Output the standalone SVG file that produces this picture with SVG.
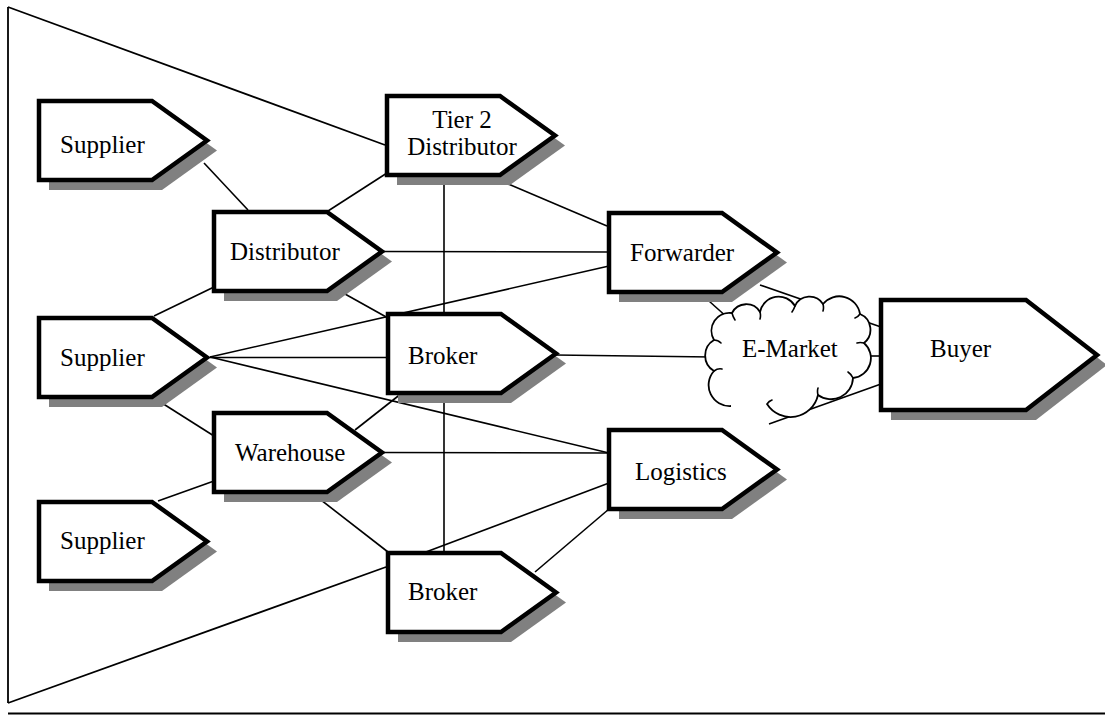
<svg xmlns="http://www.w3.org/2000/svg" xmlns:xlink="http://www.w3.org/1999/xlink" width="1105" height="715" viewBox="0 0 1105 715">
  <style>
    .frame { fill: none; stroke: #000; stroke-width: 1.8; }
    .link { fill: none; stroke: #000; stroke-width: 1.6; }
    .shadow { fill: #808080; stroke: none; }
    .box { fill: #fff; stroke: #000; stroke-width: 4.5; stroke-linejoin: miter; stroke-miterlimit: 10; }
    .cloud { fill: #fff; stroke: #000; stroke-width: 1.8; stroke-linejoin: round; }
    .tick { fill: none; stroke: #000; stroke-width: 1.6; stroke-linecap: round; }
    .label { font-family: "Liberation Serif", "Times New Roman", serif; font-size: 25px; fill: #000; }
    .mid { text-anchor: middle; }
  </style>
  <defs>
    <!-- pentagon "tag" node, outer size 174 x 83 -->
    <path id="tag" d="M2,2 H115 L170,41.5 L115,81 H2 Z"/>
    <!-- larger tag for the buyer -->
    <path id="tagBig" d="M2,2 H147 L218,57 L147,112 H2 Z"/>
  </defs>

  <rect width="1105" height="715" fill="#fff"/>

  <!-- enclosing wedge and base rule -->
  <g id="frame">
    <line class="frame" x1="8" y1="7" x2="385" y2="145"/>
    <line class="frame" x1="8" y1="7" x2="8" y2="703"/>
    <line class="frame" x1="8" y1="703" x2="386" y2="567"/>
    <line class="frame" x1="8" y1="713.5" x2="1105" y2="713.5"/>
  </g>

  <!-- connectors -->
  <g id="connectors">
    <line class="link" x1="204" y1="163" x2="248" y2="210"/>
    <line class="link" x1="387" y1="173" x2="328" y2="211"/>
    <line class="link" x1="444" y1="170" x2="444" y2="555"/>
    <line class="link" x1="480" y1="172" x2="607" y2="226"/>
    <line class="link" x1="380" y1="251.5" x2="609" y2="252"/>
    <line class="link" x1="345" y1="294" x2="388" y2="318"/>
    <line class="link" x1="154" y1="316" x2="214" y2="287"/>
    <line class="link" x1="210" y1="357" x2="609" y2="266"/>
    <line class="link" x1="210" y1="357.5" x2="388" y2="357.5"/>
    <line class="link" x1="210" y1="357" x2="609" y2="453"/>
    <line class="link" x1="154" y1="398" x2="214" y2="436"/>
    <line class="link" x1="158" y1="501" x2="214" y2="481"/>
    <line class="link" x1="355" y1="430" x2="402" y2="393"/>
    <line class="link" x1="380" y1="452.5" x2="609" y2="453"/>
    <line class="link" x1="312" y1="493" x2="388" y2="552"/>
    <line class="link" x1="386" y1="567" x2="609" y2="483"/>
    <line class="link" x1="535" y1="572" x2="609" y2="509"/>
    <line class="link" x1="555" y1="355" x2="712" y2="357"/>
    <line class="link" x1="700" y1="293" x2="728" y2="318"/>
    <line class="link" x1="760" y1="285" x2="881" y2="327"/>
    <line class="link" x1="862" y1="356" x2="881" y2="356"/>
    <line class="link" x1="769" y1="424" x2="881" y2="384"/>
  </g>

  <g id="supplier-1" transform="translate(37,99)">
    <use xlink:href="#tag" class="shadow" x="10" y="10"/>
    <use xlink:href="#tag" class="box"/>
    <text class="label" x="23" y="54">Supplier</text>
  </g>

  <g id="tier2-distributor" transform="translate(385,94)">
    <use xlink:href="#tag" class="shadow" x="10" y="10"/>
    <use xlink:href="#tag" class="box"/>
    <text class="label mid" x="77" y="34">Tier 2</text>
    <text class="label mid" x="77" y="61">Distributor</text>
  </g>

  <g id="distributor" transform="translate(212,210)">
    <use xlink:href="#tag" class="shadow" x="10" y="10"/>
    <use xlink:href="#tag" class="box"/>
    <text class="label" x="18" y="50">Distributor</text>
  </g>

  <g id="supplier-2" transform="translate(37,316)">
    <use xlink:href="#tag" class="shadow" x="10" y="10"/>
    <use xlink:href="#tag" class="box"/>
    <text class="label" x="23" y="50">Supplier</text>
  </g>

  <g id="broker-1" transform="translate(386,312)">
    <use xlink:href="#tag" class="shadow" x="10" y="10"/>
    <use xlink:href="#tag" class="box"/>
    <text class="label" x="22" y="52">Broker</text>
  </g>

  <g id="warehouse" transform="translate(212,411)">
    <use xlink:href="#tag" class="shadow" x="10" y="10"/>
    <use xlink:href="#tag" class="box"/>
    <text class="label" x="23" y="50">Warehouse</text>
  </g>

  <g id="supplier-3" transform="translate(37,500)">
    <use xlink:href="#tag" class="shadow" x="10" y="10"/>
    <use xlink:href="#tag" class="box"/>
    <text class="label" x="23" y="49">Supplier</text>
  </g>

  <g id="broker-2" transform="translate(386,551)">
    <use xlink:href="#tag" class="shadow" x="10" y="10"/>
    <use xlink:href="#tag" class="box"/>
    <text class="label" x="22" y="49">Broker</text>
  </g>

  <g id="forwarder" transform="translate(607,211)">
    <use xlink:href="#tag" class="shadow" x="10" y="10"/>
    <use xlink:href="#tag" class="box"/>
    <text class="label" x="23" y="50">Forwarder</text>
  </g>

  <g id="logistics" transform="translate(607,428)">
    <use xlink:href="#tag" class="shadow" x="10" y="10"/>
    <use xlink:href="#tag" class="box"/>
    <text class="label" x="28" y="52">Logistics</text>
  </g>

  <g id="buyer" transform="translate(879,298)">
    <use xlink:href="#tagBig" class="shadow" x="10" y="10"/>
    <use xlink:href="#tagBig" class="box"/>
    <text class="label" x="51" y="59">Buyer</text>
  </g>

  <!-- cloud, open along the lower left, with small inner ticks at the bump joins -->
  <g id="e-market">
    <path class="cloud" d="M731,406 A21,21 0 0 1 714,371 A18,18 0 0 1 714,340 A18,18 0 0 1 732,313 A16,16 0 0 1 760,312 A19,19 0 0 1 795,306 A16,16 0 0 1 823,304 A21,21 0 0 1 860,314 A17,17 0 0 1 864,343 A20,20 0 0 1 853,378 A22,22 0 0 1 818,395 A28,28 0 0 1 767,404"/>
    <path class="tick" d="M714,371 q4,-3 8,-2 M714,340 q4,0 7,3 M732,313 q1,4 3,7 M760,312 q1,4 0,7 M795,306 q-1,3 -3,6 M823,304 q1,4 0,7 M860,314 q-2,3 -5,4 M864,343 q-4,-1 -7,0 M853,378 q-2,-4 -5,-6 M818,395 q-1,-4 0,-7 M767,404 q2,-3 5,-4"/>
    <text class="label" x="742" y="357">E-Market</text>
  </g>
</svg>
